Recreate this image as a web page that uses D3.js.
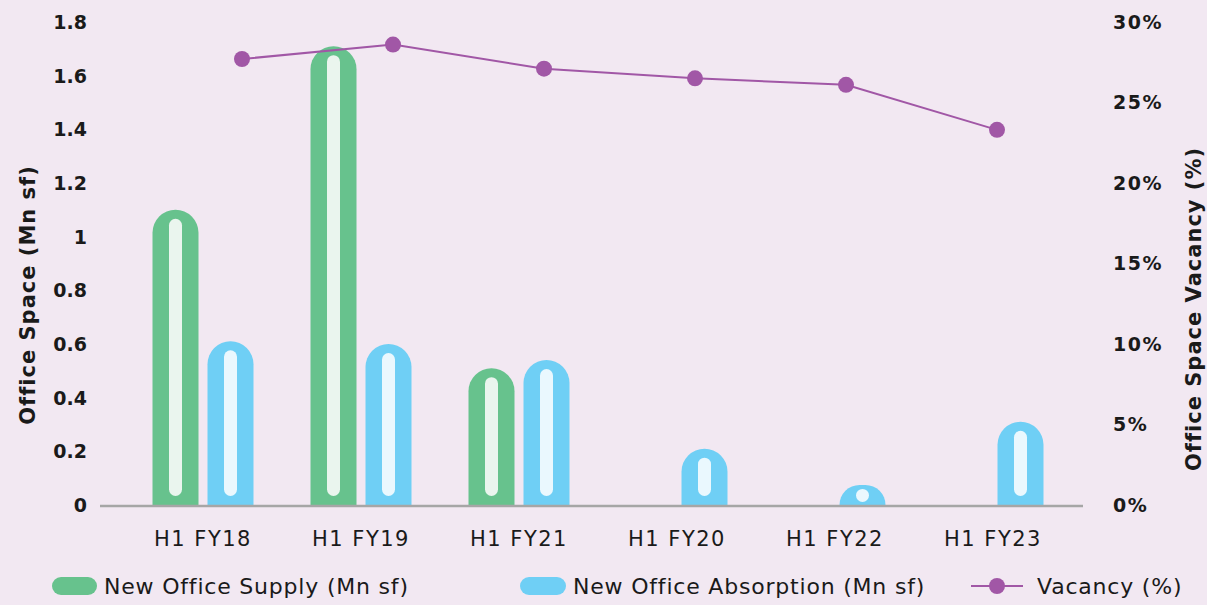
<!DOCTYPE html>
<html>
<head>
<meta charset="utf-8">
<script src="https://cdn.jsdelivr.net/npm/d3@7"></script>
<style>
  body { margin: 0; background: #f2e8f2; }
  svg { display: block; }
</style>
</head>
<body>
<script>
// office space supply / absorption vs vacancy
var categories = ["H1 FY18", "H1 FY19", "H1 FY21", "H1 FY20", "H1 FY22", "H1 FY23"];
var supply = [1.10, 1.71, 0.51, 0, 0, 0];
var absorption = [0.61, 0.60, 0.54, 0.21, 0.075, 0.31];
var vacancy = [27.7, 28.6, 27.1, 26.5, 26.1, 23.3];
var leftTicks = [0, 0.2, 0.4, 0.6, 0.8, 1, 1.2, 1.4, 1.6, 1.8];
var rightTicks = [0, 5, 10, 15, 20, 25, 30];

var W = 1207, H = 605;
var green = "#67c28d", blue = "#6fcff5", purple = "#a157a6";

var svg = d3.select("body").append("svg")
    .attr("width", W)
    .attr("height", H);

svg.append("rect").attr("width", W).attr("height", H).attr("fill", "#f2e8f2");

// scales
var x = d3.scaleBand().domain(categories).range([124, 1072]);
var xLine = d3.scalePoint().domain(categories).range([242, 997]);
var y = d3.scaleLinear().domain([0, 1.8]).range([505, 22]);
var y2 = d3.scaleLinear().domain([0, 30]).range([505, 22]);

var barW = 46, gap = 9;

// rounded-top bar path
function pill(x0, w, yTop, yBot) {
    var h = yBot - yTop;
    var r = Math.min(w / 2, h);
    var p = d3.path();
    p.moveTo(x0, yBot);
    p.lineTo(x0, yTop + r);
    p.arcTo(x0, yTop, x0 + w / 2, yTop, r);
    p.arcTo(x0 + w, yTop, x0 + w, yTop + r, r);
    p.lineTo(x0 + w, yBot);
    p.closePath();
    return p.toString();
}

function drawSeries(vals, off, fill, inner) {
    var g = svg.append("g");
    vals.forEach(function(v, i) {
        if (v <= 0) return;
        var cx = x(categories[i]) + x.bandwidth() / 2 + off;
        var top = y(v), bot = y(0);
        g.append("path")
            .attr("d", pill(cx - barW / 2, barW, top, bot))
            .attr("fill", fill);
        var sw = 13;
        var sTop = top + 9, sBot = bot - 9;
        if (sBot - sTop < sw) { sTop = top + 4; sBot = bot - 3; }
        var sh = Math.max(sBot - sTop, 4);
        g.append("rect")
            .attr("x", cx - sw / 2)
            .attr("y", sTop)
            .attr("width", sw)
            .attr("height", sh)
            .attr("rx", Math.min(sw / 2, sh / 2))
            .attr("fill", inner);
    });
}

drawSeries(supply, -(barW + gap) / 2, green, "#eaf5ee");
drawSeries(absorption, (barW + gap) / 2, blue, "#eaf8fe");

// baseline
svg.append("line")
    .attr("x1", 100).attr("x2", 1083)
    .attr("y1", y(0) + 1).attr("y2", y(0) + 1)
    .attr("stroke", "#a6a6a6").attr("stroke-width", 2.5);

// vacancy line
var line = d3.line()
    .x(function(d, i) { return xLine(categories[i]); })
    .y(function(d) { return y2(d); });

svg.append("path")
    .datum(vacancy)
    .attr("d", line)
    .attr("fill", "none")
    .attr("stroke", purple)
    .attr("stroke-width", 2);

svg.selectAll(".dot")
    .data(vacancy)
    .enter().append("circle")
    .attr("class", "dot")
    .attr("cx", function(d, i) { return xLine(categories[i]); })
    .attr("cy", function(d) { return y2(d); })
    .attr("r", 8)
    .attr("fill", purple);

// axes text
var font = "'DejaVu Sans', sans-serif";

svg.append("g").selectAll("text")
    .data(leftTicks)
    .enter().append("text")
    .attr("x", 87)
    .attr("y", function(d) { return y(d); })
    .attr("dy", "0.36em")
    .attr("text-anchor", "end")
    .style("font-family", font)
    .style("font-weight", "bold")
    .style("font-size", "19px")
    .attr("fill", "#1a1a1a")
    .text(function(d) { return d; });

svg.append("g").selectAll("text")
    .data(rightTicks)
    .enter().append("text")
    .attr("x", 1113)
    .attr("y", function(d) { return y2(d); })
    .attr("dy", "0.36em")
    .attr("text-anchor", "start")
    .style("font-family", font)
    .style("font-weight", "bold")
    .style("font-size", "19px")
    .style("letter-spacing", "1.5px")
    .attr("fill", "#1a1a1a")
    .text(function(d) { return d + "%"; });

svg.append("g").selectAll("text")
    .data(categories)
    .enter().append("text")
    .attr("x", function(d) { return x(d) + x.bandwidth() / 2; })
    .attr("y", 538)
    .attr("dy", "0.36em")
    .attr("text-anchor", "middle")
    .style("font-family", font)
    .style("font-size", "21px")
    .style("letter-spacing", "1.5px")
    .attr("fill", "#1a1a1a")
    .text(function(d) { return d; });

// axis titles
svg.append("text")
    .attr("transform", "translate(35,295) rotate(-90)")
    .attr("text-anchor", "middle")
    .style("font-family", font)
    .style("font-weight", "bold")
    .style("font-size", "21px")
    .style("letter-spacing", "1px")
    .attr("fill", "#1a1a1a")
    .text("Office Space (Mn sf)");

svg.append("text")
    .attr("transform", "translate(1201,309) rotate(-90)")
    .attr("text-anchor", "middle")
    .style("font-family", font)
    .style("font-weight", "bold")
    .style("font-size", "21px")
    .style("letter-spacing", "1px")
    .attr("fill", "#1a1a1a")
    .text("Office Space Vacancy (%)");

// legend
var leg = svg.append("g")
    .style("font-family", font)
    .style("font-size", "22px")
    .style("letter-spacing", "0.8px");

leg.append("rect").attr("x", 52).attr("y", 577).attr("width", 45).attr("height", 18)
    .attr("rx", 9).attr("fill", green);
leg.append("text").attr("x", 104).attr("y", 586).attr("dy", "0.36em")
    .attr("fill", "#1a1a1a")
    .text("New Office Supply (Mn sf)");

leg.append("rect").attr("x", 520).attr("y", 577).attr("width", 46).attr("height", 18)
    .attr("rx", 9).attr("fill", blue);
leg.append("text").attr("x", 573).attr("y", 586).attr("dy", "0.36em")
    .attr("fill", "#1a1a1a")
    .text("New Office Absorption (Mn sf)");

leg.append("line").attr("x1", 971).attr("x2", 1023).attr("y1", 586).attr("y2", 586)
    .attr("stroke", purple).attr("stroke-width", 2);
leg.append("circle").attr("cx", 997).attr("cy", 586).attr("r", 8).attr("fill", purple);
leg.append("text").attr("x", 1037).attr("y", 586).attr("dy", "0.36em")
    .attr("fill", "#1a1a1a")
    .text("Vacancy (%)");
</script>
</body>
</html>
